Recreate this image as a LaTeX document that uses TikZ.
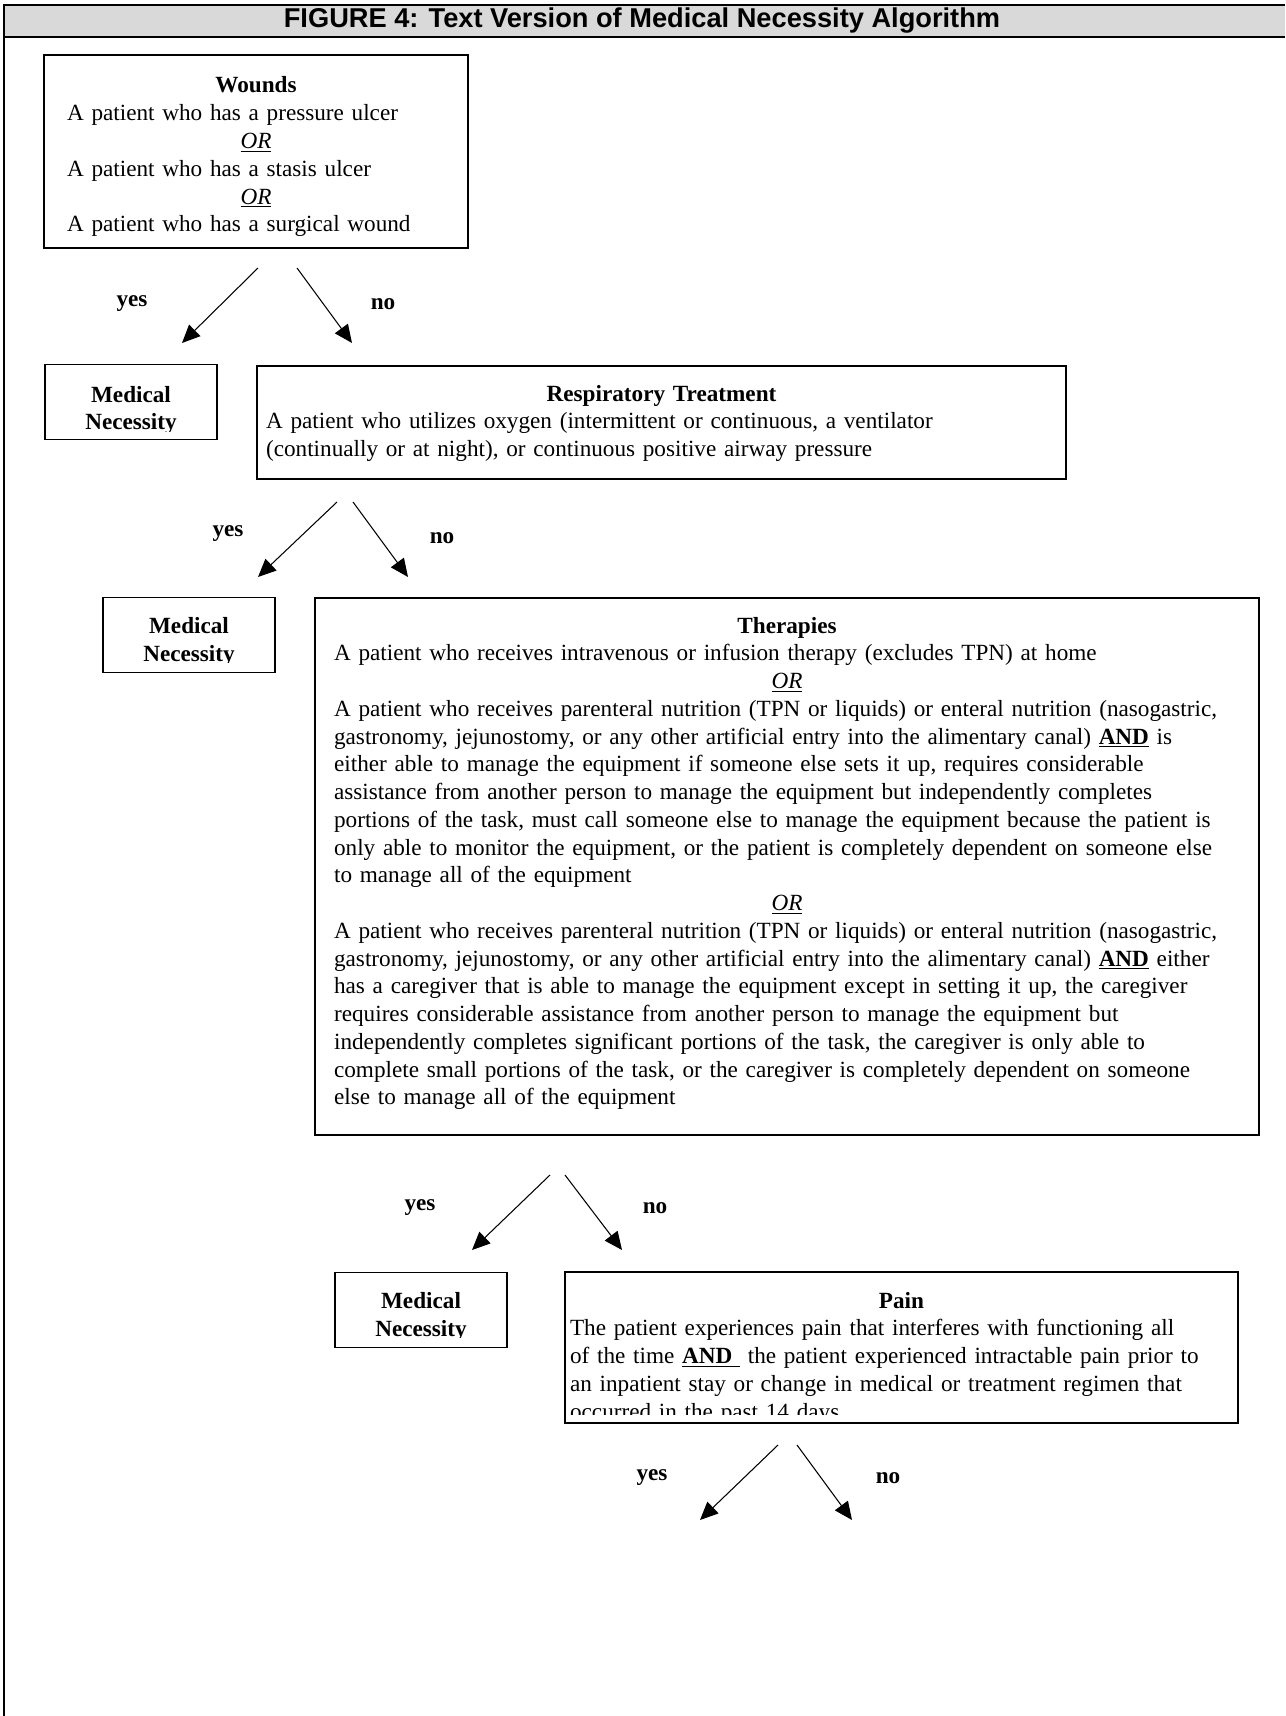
\documentclass[tikz,border=0pt]{standalone}
\usepackage{fontspec}
\setmainfont{Liberation Serif}
\newfontfamily\titlefont{Liberation Sans}
\usetikzlibrary{arrows.meta}
\definecolor{headgray}{HTML}{D9D9D9}
\setlength{\parindent}{0pt}
\newcommand\bodyfont{\fontsize{13.2}{15.8}\selectfont}
\newcommand\ctrline[1]{\makebox[\linewidth]{#1}}
\newcommand\orline{\ctrline{\textit{\underline{OR}}}}
\begin{document}
\begin{tikzpicture}[x=0.02cm,y=-0.02cm,
  box/.style={draw, line width=1pt, inner sep=0pt},
  txt/.style={font=\bodyfont, align=left, inner sep=0pt, anchor=base},
  lbl/.style={font=\bodyfont\bfseries, inner sep=0pt},
  arr/.style={line width=0.6pt, -{Triangle[length=0.36cm,width=0.32cm]}},
  mnbox/.style={draw, line width=1pt, minimum width=3.44cm, minimum height=1.5cm, inner sep=0pt},
  mntext/.style={font=\bodyfont\bfseries, inner sep=0pt, anchor=base}]
\useasboundingbox (0,0) rectangle (1285,1716);
% header
\fill[headgray] (4,5) rectangle (1285,37);
\draw[line width=1.2pt] (1285,5) -- (4,5) -- (4,1716);
\draw[line width=1.2pt] (4,37) -- (1285,37);
\node[font={\titlefont\bfseries\fontsize{15.5}{18}\selectfont}] (title) at (642,21) {FIGURE 4: Text Version of Medical Necessity Algorithm};

% Wounds
\node[box, minimum width=8.48cm, minimum height=3.86cm] (wounds) at (256,151.5) {};
\node[txt, text width=7.56cm] (woundstext) at (256,93) {%
\ctrline{\textbf{Wounds}}\\
\mbox{A patient who has a pressure ulcer}\\
\orline\\
\mbox{A patient who has a stasis ulcer}\\
\orline\\
\mbox{A patient who has a surgical wound}};

\coordinate (w-ys) at (258,268); \coordinate (w-ye) at (182,343);
\coordinate (w-ns) at (297,268); \coordinate (w-ne) at (352,343);
\draw[arr] (w-ys) -- (w-ye);
\draw[arr] (w-ns) -- (w-ne);
\node[lbl] (w-yes) at (132,304) {yes};
\node[lbl] (w-no) at (383,304) {no};

% Medical Necessity 1
\node[mnbox] (mn1) at (131,402) {};
\begin{scope}
\clip (45,365) rectangle (217,431);
\node[mntext] (mn1a) at (131,402) {Medical};
\node[mntext] (mn1b) at (131,430) {Necessity};
\end{scope}

% Respiratory
\node[box, minimum width=16.18cm, minimum height=2.26cm] (resp) at (661.5,422.5) {};
\node[txt, text width=15.82cm] (resptext) at (661.5,401) {%
\ctrline{\textbf{Respiratory Treatment}}\\
\mbox{A patient who utilizes oxygen (intermittent or continuous, a ventilator}\\
\mbox{(continually or at night), or continuous positive airway pressure}};

\coordinate (r-ys) at (337,502); \coordinate (r-ye) at (258,577);
\coordinate (r-ns) at (353,502); \coordinate (r-ne) at (408,577);
\draw[arr] (r-ys) -- (r-ye);
\draw[arr] (r-ns) -- (r-ne);
\node[lbl] (r-yes) at (228,534) {yes};
\node[lbl] (r-no) at (442,538) {no};

% Medical Necessity 2
\node[mnbox] (mn2) at (189,635) {};
\begin{scope}
\clip (103,597) rectangle (275,662);
\node[mntext] (mn2a) at (189,633) {Medical};
\node[mntext] (mn2b) at (189,661) {Necessity};
\end{scope}

% Therapies
\node[box, minimum width=18.88cm, minimum height=10.74cm] (ther) at (787,866.5) {};
\node[txt, text width=18.12cm] (thertext) at (787,633) {%
\ctrline{\textbf{Therapies}}\\
\mbox{A patient who receives intravenous or infusion therapy (excludes TPN) at home}\\
\orline\\
\mbox{A patient who receives parenteral nutrition (TPN or liquids) or enteral nutrition (nasogastric,}\\
\mbox{gastronomy, jejunostomy, or any other artificial entry into the alimentary canal) \underline{\textbf{AND}} is}\\
\mbox{either able to manage the equipment if someone else sets it up, requires considerable}\\
\mbox{assistance from another person to manage the equipment but independently completes}\\
\mbox{portions of the task, must call someone else to manage the equipment because the patient is}\\
\mbox{only able to monitor the equipment, or the patient is completely dependent on someone else}\\
\mbox{to manage all of the equipment}\\
\orline\\
\mbox{A patient who receives parenteral nutrition (TPN or liquids) or enteral nutrition (nasogastric,}\\
\mbox{gastronomy, jejunostomy, or any other artificial entry into the alimentary canal) \underline{\textbf{AND}} either}\\
\mbox{has a caregiver that is able to manage the equipment except in setting it up, the caregiver}\\
\mbox{requires considerable assistance from another person to manage the equipment but}\\
\mbox{independently completes significant portions of the task, the caregiver is only able to}\\
\mbox{complete small portions of the task, or the caregiver is completely dependent on someone}\\
\mbox{else to manage all of the equipment}};

\coordinate (t-ys) at (550,1175); \coordinate (t-ye) at (472,1250);
\coordinate (t-ns) at (565,1175); \coordinate (t-ne) at (622,1250);
\draw[arr] (t-ys) -- (t-ye);
\draw[arr] (t-ns) -- (t-ne);
\node[lbl] (t-yes) at (420,1208) {yes};
\node[lbl] (t-no) at (655,1208) {no};

% Medical Necessity 3
\node[mnbox] (mn3) at (421,1310) {};
\begin{scope}
\clip (335,1272) rectangle (507,1337);
\node[mntext] (mn3a) at (421,1308) {Medical};
\node[mntext] (mn3b) at (421,1336) {Necessity};
\end{scope}

% Pain
\node[box, minimum width=13.46cm, minimum height=3.02cm] (pain) at (901.5,1347.5) {};
\begin{scope}
\clip (565,1272) rectangle (1238,1414);
\node[txt, text width=13.26cm] (paintext) at (901.5,1308) {%
\ctrline{\textbf{Pain}}\\
\mbox{The patient experiences pain that interferes with functioning all}\\
\mbox{of the time \underline{\textbf{AND}\ } the patient experienced intractable pain prior to}\\
\mbox{an inpatient stay or change in medical or treatment regimen that}\\
\mbox{occurred in the past 14 days}};
\end{scope}

\coordinate (p-ys) at (778,1445); \coordinate (p-ye) at (700,1520);
\coordinate (p-ns) at (797,1445); \coordinate (p-ne) at (852,1520);
\draw[arr] (p-ys) -- (p-ye);
\draw[arr] (p-ns) -- (p-ne);
\node[lbl] (p-yes) at (652,1478) {yes};
\node[lbl] (p-no) at (888,1478) {no};
\end{tikzpicture}
\end{document}
